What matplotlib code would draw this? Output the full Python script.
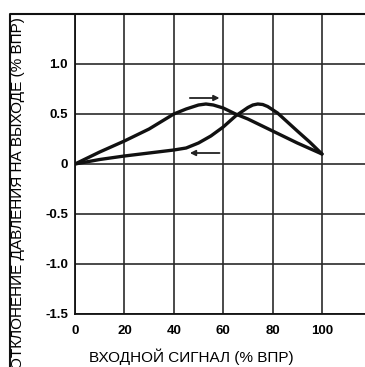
import matplotlib

matplotlib.use("Agg")
import matplotlib.pyplot as plt
from matplotlib.lines import Line2D

# input signal (% of span) vs output pressure deviation (% of span)
x_up = [0, 10, 20, 30, 40, 45, 50, 53, 56, 60, 65, 70, 80, 90, 100]
y_up = [0, 0.12, 0.23, 0.35, 0.50, 0.55, 0.59, 0.60, 0.59, 0.56, 0.50, 0.45, 0.33, 0.21, 0.10]

x_down = [0, 10, 20, 30, 40, 45, 50, 55, 60, 65, 70, 72, 74, 76, 78, 82, 86, 90, 95, 100]
y_down = [0, 0.045, 0.08, 0.11, 0.14, 0.16, 0.21, 0.28, 0.37, 0.48, 0.565, 0.59, 0.60, 0.595, 0.575, 0.51, 0.42, 0.33, 0.22, 0.10]

x_ticks = [0, 20, 40, 60, 80, 100]
y_ticks = [-1.5, -1.0, -0.5, 0, 0.5, 1.0]
y_tick_labels = ["-1.5", "-1.0", "-0.5", "0", "0.5", "1.0"]

W, H = 365, 367
fig = plt.figure(figsize=(W / 100, H / 100), dpi=100)
ax = fig.add_axes([75 / W, 53 / H, 290 / W, 300 / H])
ax.set_xlim(0, 290 / 2.47)
ax.set_ylim(-1.5, 1.5)

ax.set_xticks(x_ticks)
ax.set_xticklabels([str(v) for v in x_ticks])
ax.set_yticks(y_ticks)
ax.set_yticklabels(y_tick_labels)
ax.tick_params(length=0, labelsize=9.5)
ax.tick_params(axis="x", pad=8)
ax.tick_params(axis="y", pad=5)
for lbl in ax.get_xticklabels() + ax.get_yticklabels():
    lbl.set_fontfamily("Liberation Sans")
    lbl.set_fontweight("bold")
ax.grid(True, color="#2a2a2a", linewidth=1.2)
ax.set_axisbelow(True)
for side in ("left", "bottom", "top"):
    ax.spines[side].set_linewidth(1.3)
    ax.spines[side].set_color("#111111")
ax.spines["right"].set_visible(False)

ax.plot(x_up, y_up, color="#111111", linewidth=2.4, solid_capstyle="round", solid_joinstyle="round")
ax.plot(x_down, y_down, color="#111111", linewidth=2.4, solid_capstyle="round", solid_joinstyle="round")

arrow = dict(arrowstyle="-|>", lw=1.3, color="#222222", mutation_scale=8, shrinkA=0, shrinkB=0)
ax.annotate("", xy=(58.5, 0.66), xytext=(46.5, 0.66), arrowprops=arrow)
ax.annotate("", xy=(46.5, 0.11), xytext=(58.5, 0.11), arrowprops=arrow)

ax.set_xlabel("ВХОДНОЙ СИГНАЛ (% ВПР)", fontsize=11, fontfamily="Liberation Sans")
ax.xaxis.set_label_coords(47 / (290 / 2.47), -0.115)

fig.text(18 / W, 1 - 17 / H, "ОТКЛОНЕНИЕ ДАВЛЕНИЯ НА ВЫХОДЕ (% ВПР)", rotation=90,
         ha="center", va="top", fontsize=11, fontfamily="Liberation Sans")

# outer frame, open to the right and bottom
fig.add_artist(Line2D([10 / W, 10 / W, 1], [0, 1 - 14 / H, 1 - 14 / H],
                      transform=fig.transFigure, color="#111111", linewidth=1.5))

fig.savefig("out.png", dpi=100)
